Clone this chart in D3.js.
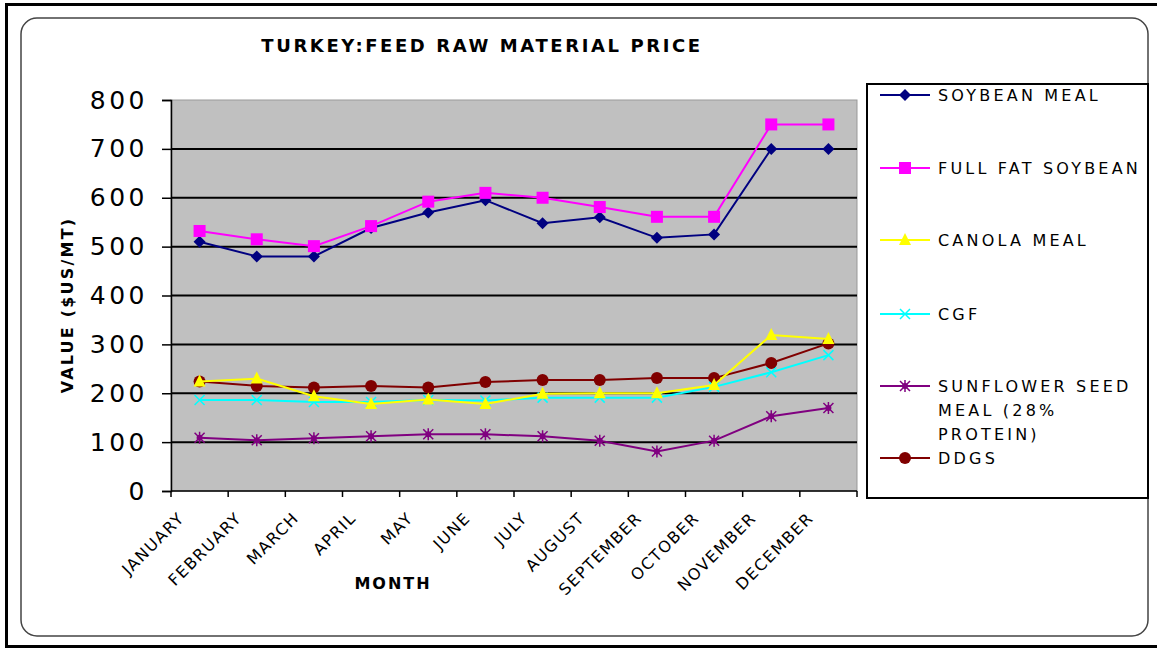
<!DOCTYPE html>
<html>
<head>
<meta charset="utf-8">
<script src="https://cdn.jsdelivr.net/npm/d3@7"></script>
<style>
  body { margin: 0; background: #fff; }
  text { font-family: "DejaVu Sans", Verdana, sans-serif; }
</style>
</head>
<body>
<div id="chart"></div>
<script>
// data
var months = ["JANUARY", "FEBRUARY", "MARCH", "APRIL", "MAY", "JUNE", "JULY",
  "AUGUST", "SEPTEMBER", "OCTOBER", "NOVEMBER", "DECEMBER"];
var yTicks = [0, 100, 200, 300, 400, 500, 600, 700, 800];

var soybeanMeal = [510, 480, 480, 538, 570, 595, 548, 560, 518, 525, 700, 700];
var fullFatSoybean = [532, 515, 501, 542, 592, 610, 600, 581, 561, 561, 750, 750];
var canolaMeal = [224, 230, 194, 178, 187, 178, 199, 200, 200, 217, 319, 311];
var cgf = [186, 186, 182, 182, 186, 185, 191, 191, 191, 213, 243, 278];
var sunflowerMeal = [109, 104, 108, 112, 116, 116, 112, 103, 81, 103, 153, 170];
var ddgs = [224, 215, 212, 215, 212, 223, 227, 227, 231, 231, 262, 302];

var seriesNames = ["SOYBEAN MEAL", "FULL FAT SOYBEAN", "CANOLA MEAL", "CGF",
  "SUNFLOWER SEED MEAL (28% PROTEIN)", "DDGS"];

var series = [
  { name: seriesNames[0], values: soybeanMeal, color: "#000080", marker: "diamond", label: ["SOYBEAN MEAL"] },
  { name: seriesNames[1], values: fullFatSoybean, color: "#ff00ff", marker: "square", label: ["FULL FAT SOYBEAN"] },
  { name: seriesNames[2], values: canolaMeal, color: "#ffff00", marker: "triangle", label: ["CANOLA MEAL"] },
  { name: seriesNames[3], values: cgf, color: "#00ffff", marker: "x", label: ["CGF"] },
  { name: seriesNames[4], values: sunflowerMeal, color: "#800080", marker: "star", label: ["SUNFLOWER SEED", "MEAL (28%", "PROTEIN)"] },
  { name: seriesNames[5], values: ddgs, color: "#800000", marker: "circle", label: ["DDGS"] }
];

var width = 1157, height = 649;
var plot = { left: 171, right: 857, top: 100, bottom: 491 };

var svg = d3.select("#chart").append("svg")
  .attr("width", width)
  .attr("height", height);

// outer frame + rounded chart area
svg.append("rect")
  .attr("x", 6.5).attr("y", 4.5)
  .attr("width", 1160).attr("height", 642)
  .attr("fill", "#fff")
  .attr("stroke", "#000")
  .attr("stroke-width", 3);

svg.append("rect")
  .attr("x", 21).attr("y", 18)
  .attr("width", 1127).attr("height", 618)
  .attr("rx", 16).attr("ry", 16)
  .attr("fill", "#fff")
  .attr("stroke", "#444")
  .attr("stroke-width", 1.5);

var x = d3.scaleBand()
  .domain(months)
  .range([plot.left, plot.right])
  .paddingInner(0).paddingOuter(0);

var y = d3.scaleLinear()
  .domain([0, 800])
  .range([plot.bottom, plot.top]);

// plot background
svg.append("rect")
  .attr("x", plot.left).attr("y", plot.top)
  .attr("width", plot.right - plot.left)
  .attr("height", plot.bottom - plot.top)
  .attr("fill", "#c0c0c0")
  .attr("stroke", "#999")
  .attr("stroke-width", 1);

// gridlines
svg.append("g")
  .selectAll("line")
  .data(yTicks.filter(function (d) { return d > 0 && d < 800; }))
  .enter().append("line")
  .attr("x1", plot.left).attr("x2", plot.right)
  .attr("y1", function (d) { return y(d); })
  .attr("y2", function (d) { return y(d); })
  .attr("stroke", "#000")
  .attr("stroke-width", 2);

// y axis
var yAxis = svg.append("g")
  .attr("transform", "translate(" + plot.left + ",0)")
  .call(d3.axisLeft(y).tickValues(yTicks).tickSize(9).tickPadding(14));
yAxis.select(".domain").attr("stroke", "#000").attr("stroke-width", 1.5);
yAxis.selectAll(".tick line").attr("stroke", "#000").attr("stroke-width", 1.5);
yAxis.selectAll("text")
  .attr("font-family", "'DejaVu Sans', sans-serif")
  .attr("font-size", 25)
  .attr("letter-spacing", 3.5)
  .attr("fill", "#000");

// x axis, ticks at category boundaries
var xAxis = svg.append("g")
  .attr("transform", "translate(0," + plot.bottom + ")");
xAxis.append("line")
  .attr("x1", plot.left).attr("x2", plot.right)
  .attr("stroke", "#000").attr("stroke-width", 1.5);
xAxis.selectAll(".xtick")
  .data(months.concat(["end"]))
  .enter().append("line")
  .attr("class", "xtick")
  .attr("x1", function (d, i) { return plot.left + i * x.bandwidth(); })
  .attr("x2", function (d, i) { return plot.left + i * x.bandwidth(); })
  .attr("y1", 0).attr("y2", 6)
  .attr("stroke", "#000").attr("stroke-width", 1.5);
xAxis.selectAll(".xlabel")
  .data(months)
  .enter().append("text")
  .attr("class", "xlabel")
  .attr("transform", function (d) {
    return "translate(" + (x(d) + x.bandwidth() / 2 - 14) + ",28) rotate(-45)";
  })
  .attr("text-anchor", "end")
  .attr("font-size", 16)
  .attr("letter-spacing", 1.5)
  .attr("fill", "#000")
  .text(function (d) { return d; });

// lines and markers
var line = d3.line()
  .x(function (d, i) { return x(months[i]) + x.bandwidth() / 2; })
  .y(function (d) { return y(d); });

function drawMarker(g, type, color) {
  if (type === "diamond") {
    g.append("path").attr("d", "M0,-6L6,0L0,6L-6,0Z").attr("fill", color);
  } else if (type === "square") {
    g.append("rect").attr("x", -6).attr("y", -6).attr("width", 12).attr("height", 12).attr("fill", color);
  } else if (type === "triangle") {
    g.append("path").attr("d", "M0,-7L6,5L-6,5Z").attr("fill", color);
  } else if (type === "x") {
    g.append("path").attr("d", "M-5,-5L5,5M-5,5L5,-5").attr("stroke", color).attr("stroke-width", 1.5);
  } else if (type === "star") {
    g.append("path").attr("d", "M-5,-5L5,5M-5,5L5,-5M0,-6L0,6").attr("stroke", color).attr("stroke-width", 1.5);
    g.append("circle").attr("r", 3).attr("fill", color);
  } else if (type === "circle") {
    g.append("circle").attr("r", 6).attr("fill", color);
  }
}

var order = [5, 4, 3, 2, 0, 1];
order.forEach(function (k) {
  var s = series[k];
  svg.append("path")
    .datum(s.values)
    .attr("d", line)
    .attr("fill", "none")
    .attr("stroke", s.color)
    .attr("stroke-width", 2);
  s.values.forEach(function (v, i) {
    var g = svg.append("g")
      .attr("transform", "translate(" + (x(months[i]) + x.bandwidth() / 2) + "," + y(v) + ")");
    drawMarker(g, s.marker, s.color);
  });
});

// titles
svg.append("text")
  .attr("x", 482).attr("y", 52)
  .attr("text-anchor", "middle")
  .attr("font-size", 18)
  .attr("font-weight", "bold")
  .attr("letter-spacing", 2.6)
  .text("TURKEY:FEED RAW MATERIAL PRICE");

svg.append("text")
  .attr("transform", "translate(73,305) rotate(-90)")
  .attr("text-anchor", "middle")
  .attr("font-size", 16)
  .attr("font-weight", "bold")
  .attr("letter-spacing", 2.2)
  .text("VALUE ($US/MT)");

svg.append("text")
  .attr("x", 393).attr("y", 589)
  .attr("text-anchor", "middle")
  .attr("font-size", 16)
  .attr("font-weight", "bold")
  .attr("letter-spacing", 2)
  .text("MONTH");

// legend
svg.append("rect")
  .attr("x", 867).attr("y", 84)
  .attr("width", 281).attr("height", 414)
  .attr("fill", "#fff")
  .attr("stroke", "#000")
  .attr("stroke-width", 2);

var legendY = [95, 168, 240, 314, 386, 458];
series.forEach(function (s, k) {
  var ly = legendY[k];
  svg.append("line")
    .attr("x1", 880).attr("x2", 930)
    .attr("y1", ly).attr("y2", ly)
    .attr("stroke", s.color).attr("stroke-width", 2);
  var g = svg.append("g").attr("transform", "translate(905," + ly + ")");
  drawMarker(g, s.marker, s.color);
  s.label.forEach(function (t, j) {
    svg.append("text")
      .attr("x", 938).attr("y", ly + 6 + j * 24)
      .attr("font-size", 16)
      .attr("letter-spacing", 3.2)
      .attr("fill", "#000")
      .text(t);
  });
});
</script>
</body>
</html>
